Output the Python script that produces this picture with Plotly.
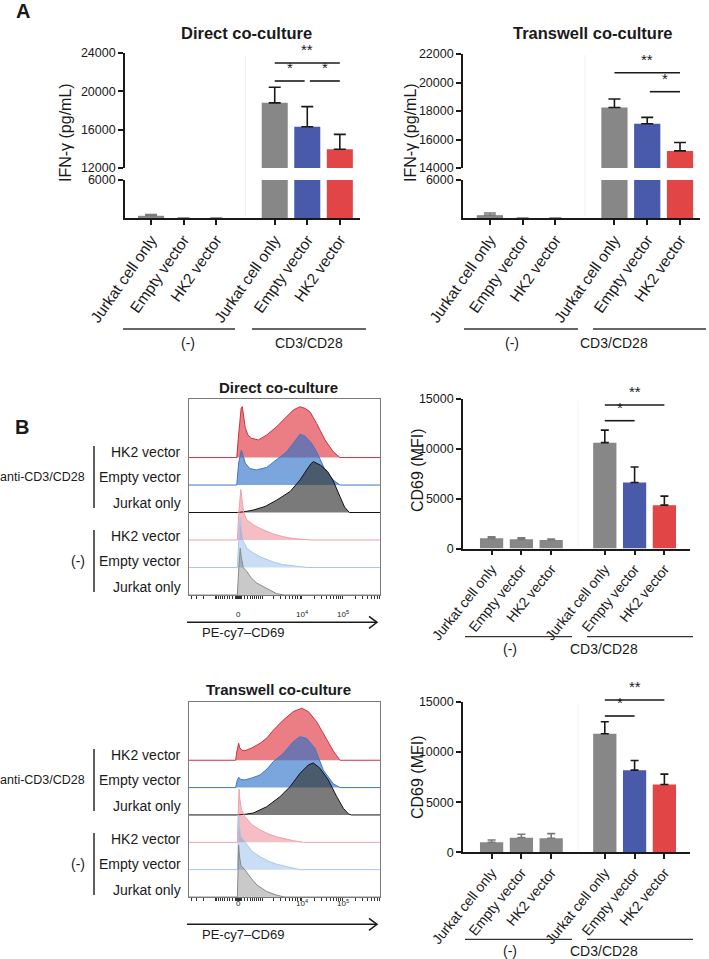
import numpy as np
import plotly.graph_objects as go

W, H = 709, 959
FONT = "Liberation Sans, Arial, sans-serif"
INK = "#1a1a1a"

# ---------------- data ----------------
cats = ["Jurkat cell only", "Empty vector", "HK2 vector"]
groups = ["(-)", "CD3/CD28"]

# panel A: IFN-gamma (pg/mL)
ifn_direct_mean = [350, 0, 0, 18800, 16300, 13950]
ifn_direct_sem = [200, 0, 0, 1620, 2100, 1560]
ifn_transwell_mean = [450, 0, 0, 18250, 17100, 15200]
ifn_transwell_sem = [330, 0, 0, 590, 450, 590]

# panel B: CD69 (MFI)
cd69_direct_mean = [1020, 920, 850, 10620, 6620, 4350]
cd69_direct_sem = [160, 160, 100, 1260, 1560, 900]
cd69_transwell_mean = [1000, 1460, 1400, 11830, 8200, 6760]
cd69_transwell_sem = [230, 340, 460, 1200, 960, 1040]

# significance brackets: (bar i, bar j, label)
sig_a_direct = [(3, 5, "**"), (3, 4, "*"), (4, 5, "*")]
sig_a_transwell = [(3, 5, "**"), (4, 5, "*")]
sig_b_direct = [(3, 5, "**"), (3, 4, "*")]
sig_b_transwell = [(3, 5, "**"), (3, 4, "*")]

# flow histograms: rows bottom -> top
hist_rows = ["Jurkat only", "Empty vector", "HK2 vector"]
treatments = ["(-)", "anti-CD3/CD28"]

# (channel, height in row units)
dir_neg_jurkat = [(255, 0), (262, 0.9), (267, 1.45), (270, 1.7), (276, 1.35), (286, 1.0), (305, 0.85),
                  (330, 0.6), (357, 0.43), (408, 0.24), (460, 0.05), (500, 0)]
dir_neg_empty = [(255, 0), (262, 0.9), (267, 1.5), (270, 1.79), (276, 1.4), (286, 0.95), (305, 0.7),
                 (340, 0.52), (374, 0.39), (410, 0.28), (443, 0.2), (490, 0.11), (547, 0.05), (620, 0)]
dir_neg_hk2 = [(255, 0), (262, 0.9), (268, 1.6), (273, 1.84), (279, 1.5), (288, 1.0), (305, 0.73),
               (340, 0.55), (374, 0.42), (410, 0.3), (443, 0.22), (490, 0.13), (530, 0.07), (600, 0.02), (650, 0)]
dir_anti_jurkat = [(255, 0), (300, 0.04), (338, 0.09), (400, 0.22), (460, 0.45), (530, 0.76), (582, 1.18),
                   (617, 1.55), (640, 1.78), (652, 1.85), (670, 1.8), (690, 1.72), (726, 1.5), (756, 1.15),
                   (791, 0.58), (815, 0.2), (840, 0)]
dir_anti_empty = [(252, 0), (262, 0.8), (270, 1.15), (276, 1.27), (284, 1.1), (296, 0.8), (320, 0.6),
                  (354, 0.55), (408, 0.64), (460, 0.91), (513, 1.21), (547, 1.52), (582, 1.85), (608, 1.78),
                  (643, 1.52), (669, 1.21), (713, 0.55), (756, 0.18), (791, 0)]
dir_anti_hk2 = [(252, 0), (260, 0.7), (268, 1.4), (275, 1.8), (281, 1.85), (288, 1.55), (296, 1.1),
                (310, 0.82), (330, 0.7), (365, 0.64), (408, 0.82), (460, 1.12), (513, 1.48), (547, 1.73),
                (582, 1.85), (608, 1.79), (634, 1.67), (669, 1.24), (713, 0.64), (756, 0.21), (791, 0)]

tw_neg_jurkat = [(255, 0), (259, 1.0), (262, 1.9), (266, 1.5), (274, 1.15), (295, 0.99), (325, 0.7),
                 (357, 0.44), (408, 0.2), (460, 0.07), (500, 0)]
tw_neg_empty = [(255, 0), (259, 0.9), (262, 1.96), (266, 1.6), (274, 1.2), (295, 1.02), (330, 0.68),
                (374, 0.47), (420, 0.3), (460, 0.2), (530, 0.08), (580, 0)]
tw_neg_hk2 = [(255, 0), (259, 0.9), (262, 1.6), (264, 1.94), (268, 1.6), (276, 1.2), (295, 0.94),
              (330, 0.65), (374, 0.45), (420, 0.3), (460, 0.2), (510, 0.11), (547, 0.06), (600, 0)]
tw_anti_jurkat = [(250, 0), (300, 0.03), (338, 0.07), (408, 0.3), (478, 0.67), (530, 1.03), (582, 1.52),
                  (626, 1.83), (652, 1.9), (686, 1.71), (730, 1.28), (774, 0.67), (809, 0.24), (835, 0.04), (850, 0)]
tw_anti_empty = [(246, 0), (254, 0.25), (262, 0.38), (272, 0.3), (295, 0.28), (330, 0.35), (374, 0.46),
                 (410, 0.68), (443, 0.95), (495, 1.25), (547, 1.68), (582, 1.86), (617, 1.8), (660, 1.44),
                 (704, 0.64), (756, 0.14), (791, 0)]
tw_anti_hk2 = [(246, 0), (252, 0.3), (258, 0.55), (262, 0.62), (268, 0.45), (280, 0.36), (295, 0.35),
               (330, 0.45), (374, 0.62), (410, 0.82), (443, 1.1), (495, 1.47), (547, 1.78), (591, 1.9),
               (626, 1.78), (669, 1.41), (721, 0.77), (756, 0.34), (791, 0)]

# ---------------- styles ----------------
bar_colors = ["#878787", "#878787", "#878787", "#878787", "#4A5AAA", "#E24545"]
hist_fill = {
    "anti": ["rgba(50,50,50,0.65)", "rgba(40,110,200,0.62)", "rgba(222,40,50,0.6)"],
    "neg": ["rgba(60,60,60,0.28)", "rgba(40,120,210,0.25)", "rgba(222,40,60,0.3)"],
}
hist_line = {
    "anti": ["#111111", "#3f78c0", "#d23040"],
    "neg": ["#8a8a8a", "#a8c8ea", "#eea0a8"],
}


def px_x(p):
    return p / W


def px_y(p):
    return 1 - p / H


pos = [i + g * (len(cats) + 0.8) for g in range(len(groups)) for i in range(len(cats))]

fig = go.Figure()
shapes = []
annots = []


def add_bars(xr, yr, idx, means, sems, with_err, err_color, width, cap):
    err = [sems[i] if sems[i] else None for i in idx]
    fig.add_trace(go.Bar(
        x=[pos[i] for i in idx], y=[means[i] for i in idx], width=width,
        marker=dict(color=[bar_colors[i] for i in idx], line=dict(width=0)),
        error_y=dict(type="data", symmetric=False, array=err, arrayminus=[0] * len(idx),
                     color=err_color, thickness=1.6, width=cap, visible=with_err),
        xaxis=xr, yaxis=yr, showlegend=False, hoverinfo="skip"))


def add_sig(xr, sigs, levels_px):
    for (i, j, lab), ly in zip(sigs, levels_px):
        adj = (j - i == 1)
        x0 = pos[i] + (0.08 if adj and lab == "*" and i > 3 else 0)
        x1 = pos[j] - (0.08 if adj and lab == "*" and i == 3 and len(sigs) > 2 else 0)
        shapes.append(dict(type="line", xref=xr, yref="paper", x0=x0, x1=x1,
                           y0=px_y(ly), y1=px_y(ly), line=dict(color=INK, width=1.6)))
        annots.append(dict(xref=xr, yref="paper", x=(x0 + x1) / 2, y=px_y(ly - 3),
                           text=lab, showarrow=False, yanchor="bottom",
                           font=dict(size=15, color=INK, family=FONT)))


def group_labels(x_lines, y_line, y_text):
    for (a, b), lab in zip(x_lines, groups):
        shapes.append(dict(type="line", xref="paper", yref="paper", x0=px_x(a), x1=px_x(b),
                           y0=px_y(y_line), y1=px_y(y_line), line=dict(color="#333333", width=1.3)))
        annots.append(dict(xref="paper", yref="paper", x=px_x((a + b) / 2), y=px_y(y_text),
                           text=lab, showarrow=False, yanchor="middle",
                           font=dict(size=14, color=INK, family=FONT)))


def text(xp, yp, s, size=14, bold=False, angle=0, xanchor="center"):
    annots.append(dict(xref="paper", yref="paper", x=px_x(xp), y=px_y(yp),
                       text=f"<b>{s}</b>" if bold else s, showarrow=False, textangle=angle,
                       xanchor=xanchor, yanchor="middle", font=dict(size=size, color=INK, family=FONT)))


yax = dict(showline=True, linecolor=INK, linewidth=1.6, ticks="outside", ticklen=5, tickwidth=1.5,
           tickcolor=INK, showgrid=False, zeroline=False, automargin=False, tickformat="d",
           tickfont=dict(size=12.5, color=INK, family=FONT))


def xax(dom, rng, anchor, size, angle):
    return dict(domain=[px_x(dom[0]), px_x(dom[1])], range=rng, anchor=anchor, showline=True,
                linecolor=INK, linewidth=1.6, ticks="outside", ticklen=5, tickwidth=1.5, tickcolor=INK,
                tickvals=pos, ticktext=cats * 2, tickangle=angle, showgrid=False, zeroline=False,
                automargin=False, tickfont=dict(size=size, color=INK, family=FONT))


layout = {}

# ---------- Panel A: broken axis bar charts ----------
for xr, yu, yl, mean, sem, xdom, xrng, ytop, ymin, yspan, ystep, sig, lv, title, tx, ylab_x, lines in [
    ("x", "y", "y2", ifn_direct_mean, ifn_direct_sem, (125, 360), [-0.8, 6.42], 53, 12000, 12000, 4000,
     sig_a_direct, [63, 81, 81], "Direct co-culture", 246, 66, [(123, 235), (252, 366)]),
    ("x2", "y3", "y4", ifn_transwell_mean, ifn_transwell_sem, (463, 700), [-0.82, 6.41], 54, 14000, 8000, 2000,
     sig_a_transwell, [72.7, 91.7], "Transwell co-culture", 593, 411, [(464, 578), (593, 706)]),
]:
    layout["xaxis" + xr[1:]] = xax(xdom, xrng, yl, 15.5, -55)
    layout["yaxis" + yu[1:]] = dict(
        yax, domain=[px_y(168), px_y(ytop)], range=[ymin, ymin + yspan],
        tickvals=list(range(ymin, ymin + yspan + 1, ystep)), anchor=xr)
    layout["yaxis" + yl[1:]] = dict(yax, domain=[px_y(218), px_y(180)], range=[0, 6000],
                                    tickvals=[6000], anchor=xr)
    add_bars(xr, yl, [0, 1, 2], mean, sem, True, "#7a7a7a", 0.8, 6)
    add_bars(xr, yl, [3, 4, 5], mean, sem, False, INK, 0.8, 6)
    add_bars(xr, yu, [3, 4, 5], mean, sem, True, INK, 0.8, 6)
    add_sig(xr, sig, lv)
    shapes.append(dict(type="line", xref=xr, yref="paper", x0=2.9, x1=2.9, y0=px_y(216), y1=px_y(55),
                       line=dict(color="#f1f1f1", width=1)))
    text(tx, 33, title, size=16.5, bold=True)
    text(ylab_x, 133, "IFN-γ (pg/mL)", size=16, angle=-90)
    group_labels(lines, 329, 343)

text(23, 11, "A", size=20, bold=True)
text(22, 427, "B", size=20, bold=True)


# ---------- Panel B: flow overlays ----------
def chan(v):
    return 262 + 214 * np.arcsinh(v / 574.0) / np.log(10)


minor = sorted({float(chan(s * m * 10 ** e)) for e in range(1, 6) for m in range(1, 10) for s in (1, -1)})
minor = [c for c in minor if 0 <= c <= 1000]

hist_sets = [
    ("x3", "y5", 399, 595, [dir_neg_jurkat, dir_neg_empty, dir_neg_hk2],
     [dir_anti_jurkat, dir_anti_empty, dir_anti_hk2], "Direct co-culture", 387, 614, 622.3, 632),
    ("x5", "y7", 702, 897, [tw_neg_jurkat, tw_neg_empty, tw_neg_hk2],
     [tw_anti_jurkat, tw_anti_empty, tw_anti_hk2], "Transwell co-culture", 689, 910, 924.3, 934),
]
ROWS_TOP = 7.13
for xr, yr, top, bot, neg, anti, title, ty, tick_y, arrow_y, lab_y in hist_sets:
    layout["xaxis" + xr[1:]] = dict(
        domain=[px_x(188.5), px_x(380)], range=[0, 1000], anchor=yr, showline=True, mirror=True,
        linecolor="#7a7a7a", linewidth=1.2, ticks="outside", ticklen=3, tickwidth=1, tickcolor="#333333",
        tickvals=minor, showticklabels=False, showgrid=False, zeroline=False, automargin=False)
    layout["yaxis" + yr[1:]] = dict(
        domain=[px_y(bot), px_y(top)], range=[0, ROWS_TOP], anchor=xr, showline=True, mirror=True,
        linecolor="#7a7a7a", linewidth=1.2, ticks="", showticklabels=False, showgrid=False, zeroline=False,
        automargin=False)
    rows = [("neg", i, c) for i, c in enumerate(neg)] + [("anti", i, c) for i, c in enumerate(anti)]
    for row in sorted(range(6), reverse=True):
        kind, i, curve = rows[row]
        xs = [0] + [c for c, _ in curve] + [1000]
        ys = [row] + [row + h for _, h in curve] + [row]
        fig.add_trace(go.Scatter(x=xs, y=ys, mode="lines", fill="toself",
                                 fillcolor=hist_fill[kind][i], line=dict(color=hist_line[kind][i], width=1),
                                 xaxis=xr, yaxis=yr, showlegend=False, hoverinfo="skip"))
    text(278, ty, title, size=15, bold=True)
    # row labels + brackets
    for gi, (tr, cy) in enumerate(zip(treatments, [top + 162, top + 78])):
        shapes.append(dict(type="line", xref="paper", yref="paper", x0=px_x(94), x1=px_x(94),
                           y0=px_y(cy - 31), y1=px_y(cy + 31), line=dict(color=INK, width=1.4)))
        text(87, cy, tr, size=12.5 if gi else 14, xanchor="right")
        for r, lab in enumerate(hist_rows):
            text(183, cy + 25.5 * (1 - r), lab, size=14, xanchor="right")
    for v, lab in [(0, "0"), (1e4, "10<sup>4</sup>"), (1e5, "10<sup>5</sup>")]:
        annots.append(dict(xref=xr, yref="paper", x=float(chan(v)), y=px_y(tick_y), text=lab,
                           showarrow=False, font=dict(size=8, color=INK, family=FONT)))
    shapes.append(dict(type="line", xref="paper", yref="paper", x0=px_x(187), x1=px_x(377),
                       y0=px_y(arrow_y), y1=px_y(arrow_y), line=dict(color=INK, width=1.5)))
    shapes.append(dict(type="path", xref="paper", yref="paper",
                       path=f"M {px_x(369)} {px_y(arrow_y - 6)} L {px_x(377)} {px_y(arrow_y)} "
                            f"L {px_x(369)} {px_y(arrow_y + 6)}",
                       line=dict(color=INK, width=1.5)))
    text(200, lab_y, "PE-cy7–CD69", size=13, xanchor="left")

# ---------- Panel B: CD69 bar charts ----------
for xr, yr, mean, sem, top, bot, sig, lv, ylab_y, gl_y in [
    ("x4", "y6", cd69_direct_mean, cd69_direct_sem, 399, 548.5, sig_b_direct, [405, 420.7], 470, 636.7),
    ("x6", "y8", cd69_transwell_mean, cd69_transwell_sem, 702, 852.3, sig_b_transwell, [700, 716], 777, 939.3),
]:
    layout["xaxis" + xr[1:]] = xax((463, 690), [-0.96, 6.66], yr, 14, -51)
    layout["yaxis" + yr[1:]] = dict(yax, domain=[px_y(bot), px_y(top)], range=[0, 15000],
                                    tickvals=[0, 5000, 10000, 15000], anchor=xr)
    add_bars(xr, yr, [0, 1, 2], mean, sem, True, "#7a7a7a", 0.78, 4)
    add_bars(xr, yr, [3, 4, 5], mean, sem, True, INK, 0.78, 4)
    add_sig(xr, sig, lv)
    shapes.append(dict(type="line", xref=xr, yref="paper", x0=2.9, x1=2.9, y0=px_y(bot - 2),
                       y1=px_y(top + 2), line=dict(color="#f1f1f1", width=1)))
    text(417, ylab_y, "CD69 (MFI)", size=16, angle=-90)
    group_labels([(465, 572), (587, 693)], gl_y, gl_y + 12)

fig.update_layout(
    width=W, height=H, margin=dict(l=0, r=0, t=0, b=0, autoexpand=False), autosize=False,
    paper_bgcolor="white", plot_bgcolor="rgba(0,0,0,0)", barmode="overlay",
    font=dict(family=FONT, color=INK), showlegend=False,
    shapes=shapes, annotations=annots, **layout)

# page body has a default 8px margin; drop it so the figure sits at the window origin
fig.write_html("out.html", config={"displayModeBar": False},
               post_script="document.body.style.margin='0';")
